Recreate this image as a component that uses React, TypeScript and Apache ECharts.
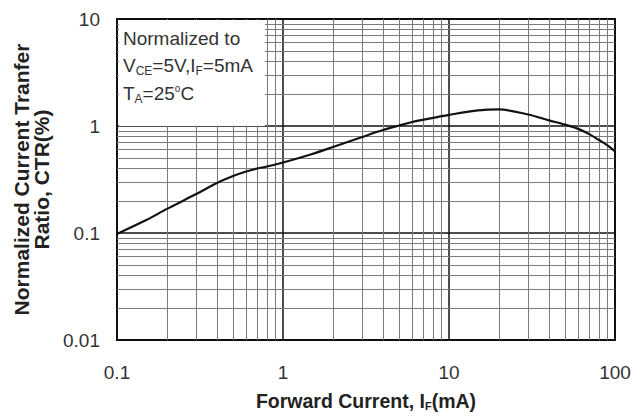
import React, { useEffect, useRef } from "react";
import * as echarts from "echarts";

// Forward current IF (mA) and normalized CTR
const currentMA = [0.1, 0.15, 0.2, 0.3, 0.4, 0.5, 0.6, 0.7, 0.8, 1, 1.5, 2, 3, 4, 5, 6, 8, 10, 15, 20, 30, 40, 50, 60, 70, 80, 90, 100];
const ctrNorm = [0.098, 0.132, 0.168, 0.231, 0.293, 0.341, 0.376, 0.401, 0.418, 0.456, 0.548, 0.637, 0.79, 0.917, 1.01, 1.09, 1.19, 1.27, 1.4, 1.43, 1.28, 1.13, 1.03, 0.94, 0.84, 0.74, 0.66, 0.58];

const xMinorGrid = [0.2, 0.3, 0.4, 0.5, 0.6, 0.7, 0.8, 0.9, 2, 3, 4, 5, 6, 7, 8, 9, 20, 30, 40, 50, 60, 70, 80, 90];
const yMinorGrid = [0.02, 0.03, 0.04, 0.05, 0.06, 0.07, 0.08, 0.09, 0.2, 0.3, 0.4, 0.5, 0.6, 0.7, 0.8, 0.9, 2, 3, 4, 5, 6, 7, 8, 9];

const xTickLabels = ["0.1", "1", "10", "100"];
const yTickLabels = ["0.01", "0.1", "1", "10"];

const FONT = "'Liberation Sans', Arial, sans-serif";

export default function App() {
  const ref = useRef<HTMLDivElement>(null);

  useEffect(() => {
    document.body.style.margin = "0";
    if (!ref.current) return;
    const chart = echarts.init(ref.current, undefined, { renderer: "svg" });
    const fmt = (v: number) => {
      const s = String(Number(v.toPrecision(6)));
      return [...xTickLabels, ...yTickLabels].includes(s) ? s : "";
    };
    const sub = { fontFamily: FONT, fontSize: 12, fill: "#333", color: "#333", padding: [11, 0, 0, 0] };
    const norm = { fontFamily: FONT, fontSize: 19, fill: "#333", color: "#333" };
    chart.setOption({
      animation: false,
      backgroundColor: "#fff",
      grid: {
        left: 117,
        right: 29,
        top: 19,
        bottom: 80,
        show: true,
        borderColor: "#111",
        borderWidth: 2,
        backgroundColor: "transparent",
      },
      xAxis: {
        type: "log",
        logBase: 10,
        min: 0.1,
        max: 100,
        name: "{b|Forward Current, I}{s|F}{b|(mA)}",
        nameLocation: "middle",
        nameGap: 50,
        nameTextStyle: {
          rich: {
            b: { fontFamily: FONT, fontWeight: "bold", fontSize: 19.5, color: "#222" },
            s: { fontFamily: FONT, fontWeight: "bold", fontSize: 11, color: "#222", verticalAlign: "bottom", padding: [10, 0, 0, 0] },
          },
        },
        axisLine: { show: true, lineStyle: { color: "#111", width: 2 } },
        axisTick: { show: false },
        axisLabel: { formatter: fmt, margin: 23, fontFamily: FONT, fontSize: 19, color: "#333" },
        splitLine: { show: true, lineStyle: { color: "#111", width: 1.5 } },
      },
      yAxis: {
        type: "log",
        logBase: 10,
        min: 0.01,
        max: 10,
        name: "Normalized Current Tranfer\nRatio, CTR(%)",
        nameLocation: "middle",
        nameGap: 61,
        nameTextStyle: { fontFamily: FONT, fontWeight: "bold", fontSize: 21, color: "#222", lineHeight: 20 },
        axisLine: { show: true, lineStyle: { color: "#111", width: 2 } },
        axisTick: { show: false },
        axisLabel: { formatter: fmt, margin: 17, fontFamily: FONT, fontSize: 19, color: "#333" },
        splitLine: { show: true, lineStyle: { color: "#111", width: 1.5 } },
      },
      series: [
        {
          type: "line",
          data: [],
          silent: true,
          z: 1,
          markLine: {
            silent: true,
            symbol: "none",
            label: { show: false },
            lineStyle: { color: "#7a7a7a", width: 1, type: "solid" },
            data: [
              ...xMinorGrid.map((v) => ({ xAxis: v })),
              ...yMinorGrid.map((v) => ({ yAxis: v })),
            ],
          },
        },
        {
          type: "line",
          data: currentMA.map((x, i) => [x, ctrNorm[i]]),
          smooth: 0.3,
          showSymbol: false,
          z: 5,
          lineStyle: { color: "#111", width: 2.2 },
        },
      ],
      graphic: [
        {
          type: "rect",
          z: 100,
          shape: { x: 119, y: 20, width: 146, height: 106 },
          style: { fill: "#fff" },
        },
        {
          type: "text",
          z: 101,
          x: 123,
          y: 38,
          style: { text: "Normalized to", ...norm, verticalAlign: "middle" },
        },
        {
          type: "text",
          z: 101,
          x: 123,
          y: 65,
          style: {
            text: "{n|V}{s|CE}{n|=5V,I}{s|F}{n|=5mA}",
            verticalAlign: "middle",
            rich: { n: norm, s: sub },
          },
        },
        {
          type: "text",
          z: 101,
          x: 123,
          y: 93,
          style: {
            text: "{n|T}{s|A}{n|=25}{s2|o}{n|C}",
            verticalAlign: "middle",
            rich: {
              n: norm,
              s: sub,
              s2: { fontFamily: FONT, fontSize: 10, fill: "#333", color: "#333", padding: [0, 0, 9, 0] },
            },
          },
        },
      ],
    });
    return () => chart.dispose();
  }, []);

  return <div ref={ref} style={{ width: 644, height: 420 }} />;
}
